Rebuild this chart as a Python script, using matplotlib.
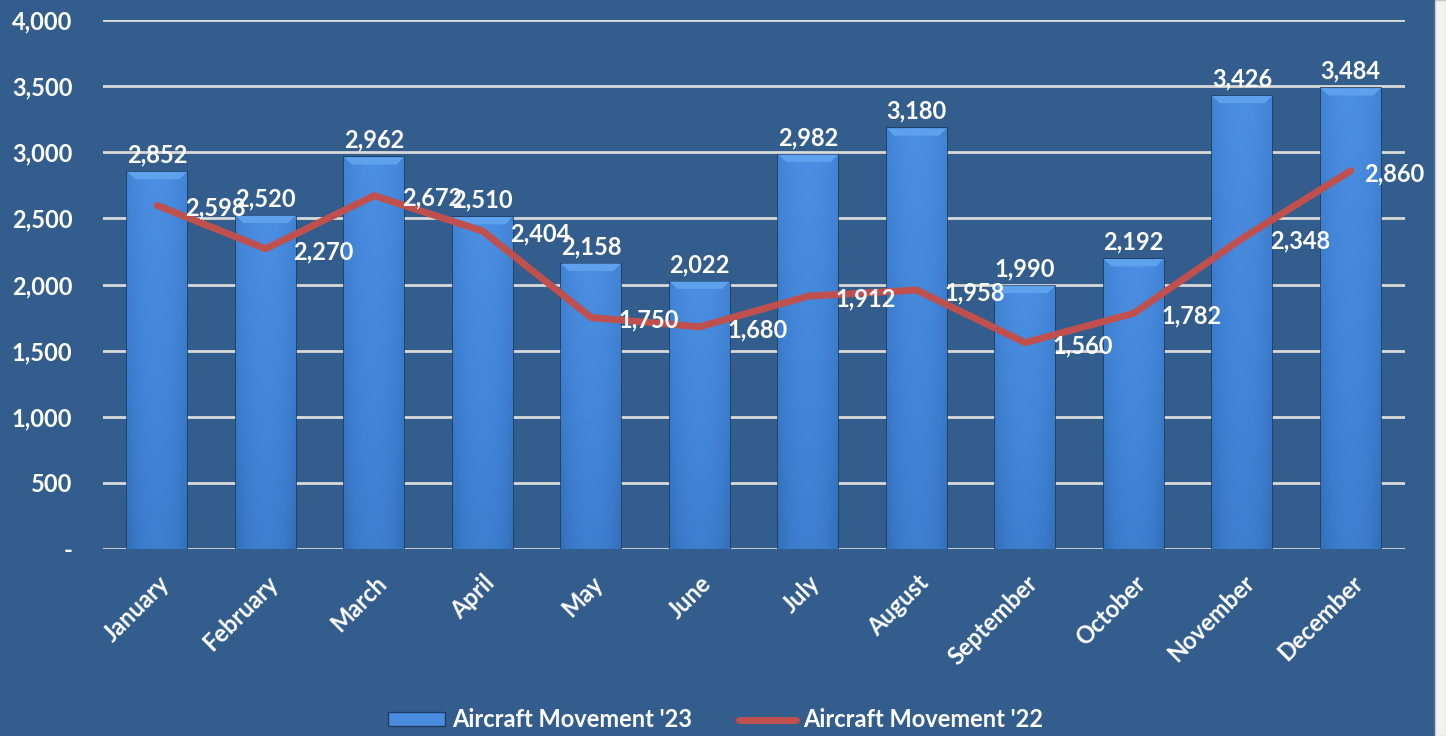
import matplotlib
matplotlib.use("Agg")
import matplotlib.pyplot as plt
import numpy as np
from matplotlib.colors import LinearSegmentedColormap
from matplotlib.patches import Polygon, Rectangle
from matplotlib.lines import Line2D
from matplotlib.ticker import FuncFormatter

months = ["January", "February", "March", "April", "May", "June",
          "July", "August", "September", "October", "November", "December"]
movement_23 = [2852, 2520, 2962, 2510, 2158, 2022, 2982, 3180, 1990, 2192, 3426, 3484]
movement_22 = [2598, 2270, 2672, 2404, 1750, 1680, 1912, 1958, 1560, 1782, 2348, 2860]
y_ticks = [0, 500, 1000, 1500, 2000, 2500, 3000, 3500, 4000]

BG = "#335d8d"
WHITE = "white"
RED = "#c0504d"
FONT = ["Lato", "DejaVu Sans"]
FS = 17

plt.rcParams["font.family"] = FONT
plt.rcParams["font.weight"] = "bold"

fig = plt.figure(figsize=(14.46, 7.36), dpi=100, facecolor=BG)
ax = fig.add_axes([0.0712, 0.2541, 0.9004, 0.7187], facecolor=BG)

x = np.arange(len(months))
bar_w = 0.55

# plain bars first (dark outline gives the shadowed edge)
bars = ax.bar(x, movement_23, width=bar_w, color="#3a76c4",
              edgecolor="#1f3d63", linewidth=1.2, zorder=2)

# vertical + horizontal shading inside each bar
bar_cmap = LinearSegmentedColormap.from_list("bar", ["#2a5d9c", "#3b7bcc", "#4b8fe2"])
ny, nx = 64, 32
vert = np.linspace(0.0, 1.0, ny)[:, None]
horiz = 1.0 - 0.5 * np.abs(np.linspace(-1, 1, nx))[None, :] ** 2
shade = 0.4 * vert + 0.6 * horiz
for rect, val in zip(bars, movement_23):
    x0 = rect.get_x()
    im = ax.imshow(shade, extent=[x0, x0 + bar_w, 0, val], origin="lower",
                   aspect="auto", cmap=bar_cmap, vmin=0, vmax=1, zorder=2.1)
    im.set_clip_path(rect)
    # bevelled top
    dx, dy = 0.07, 55
    top = Polygon([[x0, val], [x0 + bar_w, val], [x0 + bar_w - dx, val - dy], [x0 + dx, val - dy]],
                  closed=True, facecolor="#5ea2ee", edgecolor="none", zorder=2.2)
    ax.add_patch(top)

ax.plot(x, movement_22, color=RED, linewidth=5, solid_capstyle="round",
        solid_joinstyle="round", zorder=4)

for xi, v in zip(x, movement_23):
    ax.annotate(f"{v:,}", (xi, v), xytext=(0, 4), textcoords="offset points",
                ha="center", va="bottom", color=WHITE, fontsize=FS, fontweight="bold", zorder=5)
for i, (xi, v) in enumerate(zip(x, movement_22)):
    # last label is pulled in so it stays inside the chart area
    off = 10 if i == len(months) - 1 else 20
    ax.annotate(f"{v:,}", (xi, v), xytext=(off, -2), textcoords="offset points",
                ha="left", va="center", color=WHITE, fontsize=FS, fontweight="bold", zorder=5)

ax.set_xlim(-0.5, len(months) - 0.5)
ax.set_ylim(0, 4000)
ax.set_yticks(y_ticks)
ax.yaxis.set_major_formatter(FuncFormatter(lambda v, _: "-" if v == 0 else f"{int(v):,}"))
ax.grid(axis="y", color="#d9d9d9", linewidth=2, zorder=1)
ax.set_axisbelow(True)
for s in ax.spines.values():
    s.set_visible(False)
ax.tick_params(axis="y", length=0, pad=22, labelcolor=WHITE, labelsize=FS)
ax.tick_params(axis="x", length=0, pad=16, labelcolor=WHITE, labelsize=FS)
ax.set_xticks(x)
ax.set_xticklabels(months, rotation=45, ha="right", rotation_mode="anchor")
for lbl in ax.get_xticklabels() + ax.get_yticklabels():
    lbl.set_fontweight("bold")

handles = [
    Rectangle((0, 0), 1, 1, facecolor="#4a8ddf", edgecolor="#1f3d63", linewidth=1),
    Line2D([0], [0], color=RED, linewidth=5, solid_capstyle="round"),
]
leg = fig.legend(handles, ["Aircraft Movement '23", "Aircraft Movement '22"],
                 loc="center", bbox_to_anchor=(0.495, 0.022), ncol=2, frameon=False,
                 fontsize=FS, labelcolor=WHITE, handlelength=2.4, handleheight=0.5,
                 columnspacing=2.0, handletextpad=0.3)
for t in leg.get_texts():
    t.set_fontweight("bold")

# light strip at the right edge of the screenshot
fig.patches.append(Rectangle((0.9925, 0), 0.0075, 1, transform=fig.transFigure,
                             facecolor="#f2f2ee", edgecolor="#c8c8c8", linewidth=1, zorder=10))

fig.savefig("out.png", dpi=100, facecolor=BG)
